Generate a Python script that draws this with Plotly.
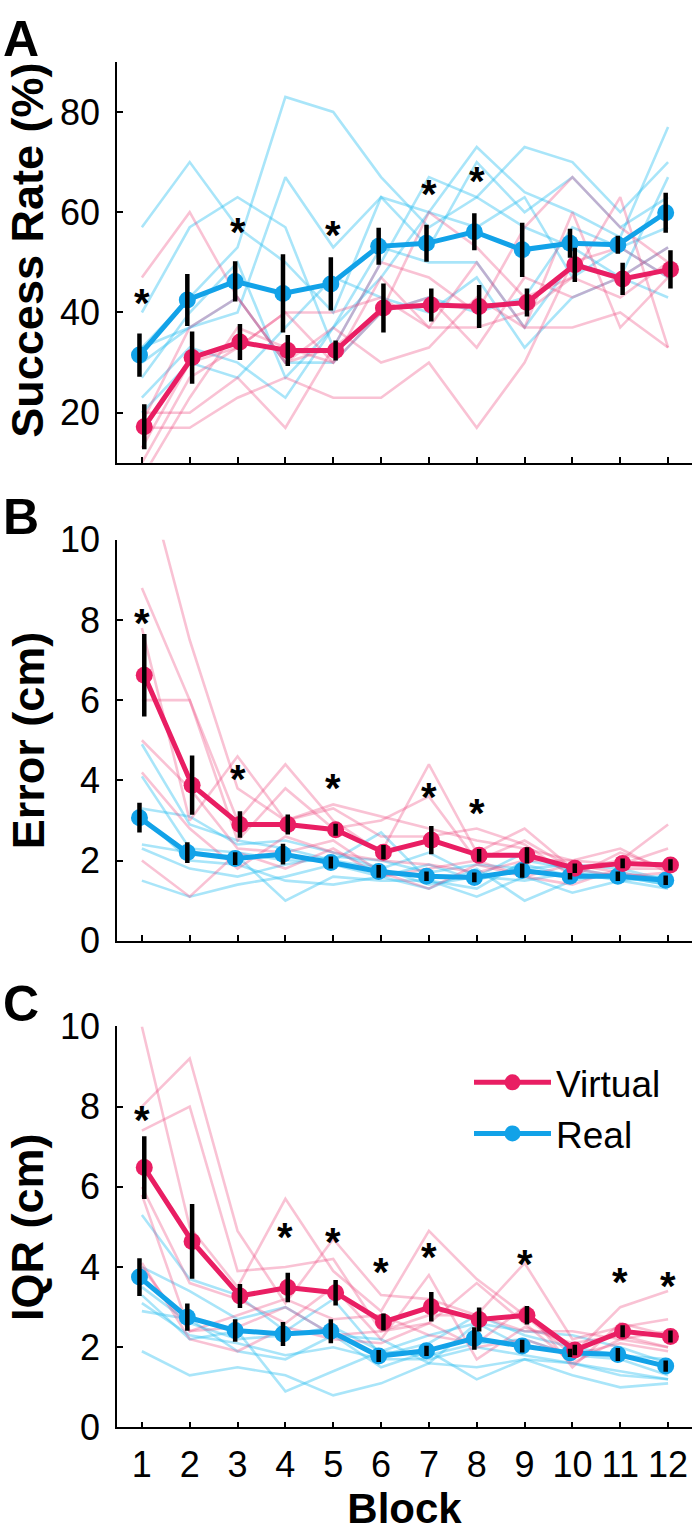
import plotly.graph_objects as go

blocks = list(range(1, 13))

# ---------------- Panel A: Success Rate (%) ----------------
a_virtual_mean = [17.2, 31.0, 34.1, 32.4, 32.4, 40.9, 41.5, 41.2, 42.0, 49.5, 46.7, 48.6]
a_virtual_err = [4.5, 5.2, 3.6, 3.1, 2.0, 4.9, 3.3, 4.3, 2.8, 3.4, 3.2, 3.8]
a_real_mean = [31.5, 42.5, 46.2, 43.8, 45.7, 53.2, 53.8, 56.1, 52.5, 53.8, 53.5, 59.9]
a_real_err = [4.3, 5.2, 4.0, 7.8, 5.3, 3.7, 3.7, 3.7, 5.4, 2.9, 1.8, 4.0]
a_virtual_subj = [
    [47, 60, 43, 30, 33, 40, 60, 53, 43, 47, 63, 33],
    [20, 20, 27, 17, 33, 50, 47, 40, 57, 67, 57, 50],
    [17, 17, 23, 27, 23, 23, 30, 17, 30, 50, 53, 47],
    [10, 27, 33, 40, 30, 47, 37, 50, 37, 37, 40, 33],
    [7, 23, 37, 33, 30, 40, 43, 33, 47, 43, 47, 53],
    [18, 37, 43, 30, 37, 30, 33, 43, 37, 60, 37, 47],
    [13, 30, 33, 40, 40, 43, 37, 37, 40, 47, 43, 50],
]
a_real_subj = [
    [57, 70, 57, 50, 40, 63, 60, 73, 64, 60, 55, 77],
    [40, 57, 63, 57, 33, 50, 67, 63, 73, 70, 60, 70],
    [33, 43, 53, 83, 80, 67, 57, 63, 57, 53, 47, 67],
    [30, 37, 40, 67, 53, 63, 53, 70, 60, 67, 57, 63],
    [27, 40, 50, 27, 37, 47, 60, 57, 63, 47, 53, 57],
    [23, 33, 30, 23, 37, 53, 50, 50, 37, 50, 47, 53],
    [20, 30, 27, 37, 47, 43, 40, 47, 33, 43, 47, 43],
    [33, 37, 43, 30, 30, 40, 43, 40, 43, 57, 53, 47],
]
a_star_blocks = [1, 3, 5, 7, 8]
a_star_y = [42.5, 56.7, 56.1, 64.2, 66.8]

# ---------------- Panel B: Error (cm) ----------------
b_virtual_mean = [6.62, 3.88, 2.90, 2.90, 2.77, 2.21, 2.51, 2.13, 2.13, 1.81, 1.93, 1.89]
b_virtual_err = [1.03, 0.74, 0.33, 0.25, 0.15, 0.18, 0.35, 0.16, 0.20, 0.12, 0.12, 0.14]
b_real_mean = [3.07, 2.20, 2.05, 2.16, 1.95, 1.73, 1.61, 1.58, 1.75, 1.61, 1.61, 1.51]
b_real_err = [0.37, 0.26, 0.16, 0.26, 0.15, 0.16, 0.12, 0.12, 0.18, 0.08, 0.12, 0.12]
b_virtual_subj = [
    [12.0, 7.5, 3.8, 3.0, 3.4, 3.1, 2.8, 2.5, 2.3, 2.0, 1.9, 2.3],
    [8.8, 6.0, 3.0, 4.4, 3.0, 2.2, 4.4, 2.2, 2.8, 1.8, 2.0, 2.9],
    [7.8, 3.0, 4.6, 3.0, 3.3, 2.6, 2.6, 2.8, 2.4, 1.6, 2.2, 1.8],
    [6.0, 6.0, 2.5, 3.8, 2.8, 3.0, 3.6, 2.0, 2.5, 1.8, 1.6, 1.7],
    [5.0, 3.8, 2.3, 2.2, 2.5, 1.7, 1.3, 1.9, 1.6, 1.4, 1.8, 1.8],
    [4.2, 2.8, 1.8, 2.6, 2.2, 2.0, 1.9, 1.7, 2.0, 2.0, 2.3, 1.7],
    [2.0, 1.1, 2.2, 1.8, 2.3, 1.6, 1.8, 2.0, 1.6, 1.9, 1.7, 1.5],
]
b_real_subj = [
    [4.9, 2.9, 2.5, 2.3, 2.0, 2.7, 1.5, 1.3, 2.0, 1.8, 1.6, 1.6],
    [3.3, 3.1, 2.4, 2.5, 2.2, 1.8, 2.2, 1.6, 2.2, 1.7, 1.6, 1.4],
    [3.1, 2.0, 1.9, 1.5, 1.4, 1.6, 1.3, 1.8, 1.0, 1.5, 1.7, 1.5],
    [2.4, 2.2, 2.1, 1.0, 1.6, 1.5, 1.5, 1.1, 1.6, 1.2, 1.5, 1.3],
    [2.3, 1.8, 1.6, 1.9, 2.1, 2.0, 1.7, 1.9, 1.8, 1.9, 1.8, 1.5],
    [1.5, 1.1, 1.4, 1.6, 1.9, 1.6, 1.9, 1.5, 1.9, 1.6, 1.6, 1.4],
    [4.1, 2.3, 2.2, 2.0, 2.0, 1.8, 1.4, 1.6, 1.5, 1.7, 1.5, 1.6],
]
b_star_blocks = [1, 3, 5, 7, 8]
b_star_y = [8.01, 4.12, 3.88, 3.67, 3.27]

# ---------------- Panel C: IQR (cm) ----------------
c_virtual_mean = [6.48, 4.64, 3.28, 3.49, 3.36, 2.63, 3.01, 2.69, 2.80, 1.93, 2.40, 2.27]
c_virtual_err = [0.78, 0.93, 0.30, 0.37, 0.32, 0.21, 0.37, 0.30, 0.23, 0.13, 0.15, 0.15]
c_real_mean = [3.75, 2.75, 2.42, 2.33, 2.40, 1.78, 1.91, 2.22, 2.03, 1.86, 1.82, 1.53]
c_real_err = [0.47, 0.34, 0.28, 0.30, 0.30, 0.15, 0.13, 0.28, 0.16, 0.10, 0.16, 0.14]
c_virtual_subj = [
    [10.0, 5.0, 3.5, 5.7, 3.9, 2.9, 4.9, 3.7, 2.8, 1.8, 3.0, 3.4],
    [8.0, 9.2, 4.9, 3.1, 4.7, 3.3, 3.2, 2.8, 4.1, 2.2, 2.5, 2.7],
    [7.4, 8.0, 3.9, 4.0, 4.2, 2.4, 2.6, 3.6, 2.6, 1.6, 2.2, 2.4],
    [6.0, 3.6, 3.2, 2.6, 3.5, 2.2, 3.8, 1.7, 2.5, 2.1, 2.3, 2.0],
    [5.8, 2.4, 2.8, 3.2, 2.7, 2.8, 2.3, 2.1, 3.0, 1.5, 2.6, 2.3],
    [4.1, 2.2, 1.9, 2.5, 2.2, 2.1, 2.6, 2.0, 2.2, 1.8, 2.1, 1.9],
    [4.0, 2.4, 2.5, 3.0, 2.3, 2.4, 2.8, 2.8, 2.4, 2.4, 2.2, 2.0],
]
c_real_subj = [
    [5.3, 3.7, 3.3, 2.4, 3.2, 1.8, 2.1, 2.8, 2.3, 2.0, 1.8, 1.5],
    [4.0, 3.4, 2.7, 3.0, 2.3, 2.2, 1.6, 2.6, 2.4, 2.3, 2.0, 1.6],
    [3.5, 2.6, 2.2, 2.3, 2.5, 1.9, 2.3, 2.6, 2.0, 1.9, 1.8, 1.7],
    [3.1, 2.3, 2.1, 1.8, 2.0, 1.7, 1.7, 2.0, 1.8, 1.6, 1.4, 1.2],
    [2.9, 2.7, 1.9, 1.7, 2.3, 1.5, 1.9, 1.2, 1.7, 1.3, 1.0, 1.1],
    [1.9, 1.3, 1.5, 1.3, 0.8, 1.1, 1.6, 1.5, 1.7, 1.6, 1.3, 1.2],
    [3.3, 2.2, 2.4, 0.9, 1.4, 1.9, 1.8, 2.1, 2.2, 1.8, 1.7, 1.3],
]
c_star_blocks = [1, 4, 5, 6, 7, 9, 11, 12]
c_star_y = [7.75, 4.83, 4.70, 3.94, 4.32, 4.15, 3.69, 3.60]

panel_letters = ["A", "B", "C"]
y_titles = ["Success Rate (%)", "Error (cm)", "IQR (cm)"]
y_tickvals = [[20, 40, 60, 80], [0, 2, 4, 6, 8, 10], [0, 2, 4, 6, 8, 10]]
y_ranges = [[10, 90], [0, 10], [0, 10]]

# ---------------- styling ----------------
W, H = 700, 1538
VCOL = "#E91E63"
RCOL = "#12A2E8"
VFAINT = "rgba(236,64,122,0.32)"
RFAINT = "rgba(40,190,240,0.40)"
X_OFF = 0.05
FONT = "Arial, Liberation Sans, sans-serif"


def px_x(p):
    return p / W


def px_y(p):
    return 1 - p / H


plot_left, plot_right = 117, 692
panel_px = [(43, 455), (534, 946), (1034, 1446)]

panels = [
    (a_virtual_mean, a_virtual_err, a_real_mean, a_real_err, a_virtual_subj, a_real_subj, a_star_blocks, a_star_y),
    (b_virtual_mean, b_virtual_err, b_real_mean, b_real_err, b_virtual_subj, b_real_subj, b_star_blocks, b_star_y),
    (c_virtual_mean, c_virtual_err, c_real_mean, c_real_err, c_virtual_subj, c_real_subj, c_star_blocks, c_star_y),
]

fig = go.Figure()
annotations = []
layout_axes = {}

for i, (vm, ve, rm, re_, vs, rs, sb, sy) in enumerate(panels):
    n = "" if i == 0 else str(i + 1)
    xa, ya = "x" + n, "y" + n
    for subj in rs:
        fig.add_trace(go.Scatter(x=blocks, y=subj, mode="lines", xaxis=xa, yaxis=ya,
                                 line=dict(color=RFAINT, width=2.6), showlegend=False, hoverinfo="skip"))
    for subj in vs:
        fig.add_trace(go.Scatter(x=blocks, y=subj, mode="lines", xaxis=xa, yaxis=ya,
                                 line=dict(color=VFAINT, width=2.6), showlegend=False, hoverinfo="skip"))
    for name, m, col, off, rank in [("Real", rm, RCOL, -X_OFF, 2), ("Virtual", vm, VCOL, X_OFF, 1)]:
        xs = [b + off for b in blocks]
        fig.add_trace(go.Scatter(x=xs, y=m, mode="lines+markers", xaxis=xa, yaxis=ya, name=name,
                                 line=dict(color=col, width=5), marker=dict(color=col, size=17),
                                 showlegend=(i == 2), legendrank=rank))
    for m, e, off in [(rm, re_, -X_OFF), (vm, ve, X_OFF)]:
        ex, ey = [], []
        for b, mm, ee in zip(blocks, m, e):
            ex += [b + off, b + off, None]
            ey += [mm - ee, mm + ee, None]
        fig.add_trace(go.Scatter(x=ex, y=ey, mode="lines", xaxis=xa, yaxis=ya,
                                 line=dict(color="black", width=4.5), showlegend=False, hoverinfo="skip"))
    for b, y in zip(sb, sy):
        annotations.append(dict(x=b, y=y, xref=xa, yref=ya, text="<b>*</b>", showarrow=False,
                                font=dict(size=40, color="black", family=FONT), yshift=-3))
    top, bot = panel_px[i]
    layout_axes["xaxis" + n] = dict(
        domain=[px_x(plot_left), px_x(plot_right)], range=[0.48, 12.5], anchor=ya,
        tickmode="array", tickvals=blocks, ticktext=[str(b) for b in blocks],
        showticklabels=(i == 2), ticks="inside", ticklen=6, tickwidth=1.5, tickcolor="black",
        showline=True, linecolor="black", linewidth=1.5, showgrid=False, zeroline=False,
        tickfont=dict(size=36, color="black", family=FONT), ticklabelstandoff=5,
        title=dict(text="<b>Block</b>", font=dict(size=42, color="black", family=FONT), standoff=2) if i == 2 else None,
    )
    layout_axes["yaxis" + n] = dict(
        domain=[px_y(bot), px_y(top)], range=y_ranges[i], anchor=xa,
        tickmode="array", tickvals=y_tickvals[i],
        ticks="inside", ticklen=6, tickwidth=1.5, tickcolor="black",
        showline=True, linecolor="black", linewidth=1.5, showgrid=False, zeroline=False,
        tickfont=dict(size=36, color="black", family=FONT), ticklabelstandoff=8,
    )
    annotations.append(dict(x=px_x(1), y=px_y(top - 23), xref="paper", yref="paper",
                            text="<b>" + panel_letters[i] + "</b>", showarrow=False,
                            xanchor="left", yanchor="middle",
                            font=dict(size=50, color="black", family=FONT)))
    annotations.append(dict(x=px_x(28), y=px_y((top + bot) / 2 - (12 if i == 0 else 0)), xref="paper", yref="paper",
                            text="<b>" + y_titles[i] + "</b>", showarrow=False, textangle=-90,
                            xanchor="center", yanchor="middle",
                            font=dict(size=45, color="black", family=FONT)))

fig.update_layout(
    width=W, height=H, margin=dict(l=0, r=0, t=0, b=0),
    paper_bgcolor="white", plot_bgcolor="white",
    annotations=annotations,
    legend=dict(x=469 / W, y=1 - 1060 / H, xanchor="left", yanchor="top",
                font=dict(size=37, color="black", family=FONT), bgcolor="rgba(0,0,0,0)",
                itemwidth=77, tracegroupgap=0, itemsizing="trace"),
    **layout_axes,
)

fig.write_html("out.html", config={"displayModeBar": False},
               post_script="document.body.style.margin='0';")
